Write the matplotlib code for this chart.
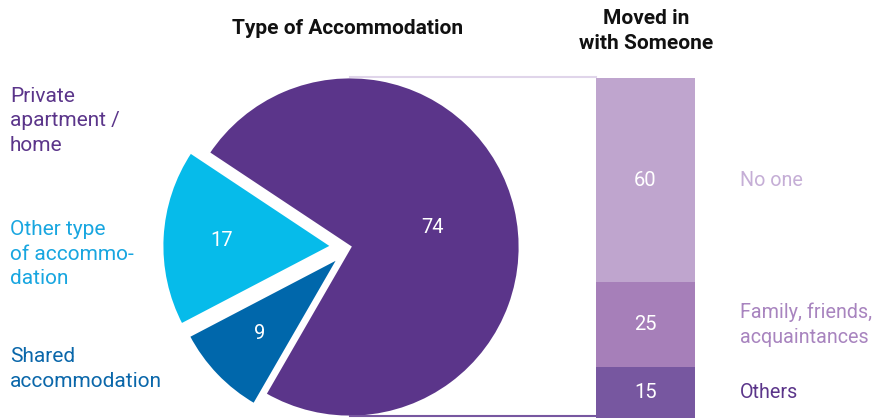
"""Type of accommodation pie plus 'moved in with someone' stacked bar."""
from __future__ import annotations

import matplotlib

matplotlib.use("Agg")
import matplotlib.pyplot as plt
import numpy as np

# pie: type of accommodation (percent)
ACC_LABELS = ["Private\napartment /\nhome", "Other type\nof accommo-\ndation", "Shared\naccommodation"]
ACC_VALUES = [74, 17, 9]
ACC_COLORS = ["#5b358a", "#06bbea", "#0067ab"]
ACC_TEXT_COLORS = ["#5b358a", "#18a6e0", "#0a67aa"]

# stacked bar: moved in with someone (percent), top to bottom
MOVED_LABELS = ["No one", "Family, friends,\nacquaintances", "Others"]
MOVED_VALUES = [60, 25, 15]
MOVED_COLORS = ["#bfa5ce", "#a67fb9", "#7757a0"]
MOVED_TEXT_COLORS = ["#c5aed6", "#a884bf", "#5b358a"]

FONT = "Roboto"
W, H = 877, 418


def main() -> None:
    plt.rcParams["font.family"] = [FONT, "DejaVu Sans"]
    fig = plt.figure(figsize=(W / 100, H / 100), dpi=100)
    ax = fig.add_axes([0, 0, 1, 1])

    # ---- pie ----
    cx, cy, r = 350, 171, 170
    # pie's explode is in data units here (radius is not 1)
    wedges, _ = ax.pie(
        ACC_VALUES, colors=ACC_COLORS, startangle=-120, counterclock=True,
        explode=[0, 18, 15], center=(cx, cy), radius=r,
        wedgeprops=dict(edgecolor="white", linewidth=2),
    )
    ax.set_xlim(0, W)
    ax.set_ylim(0, H)
    ax.set_aspect("equal")
    ax.axis("off")

    dists = [0.5, 0.65, 0.65]
    for w, v, d in zip(wedges, ACC_VALUES, dists):
        mid = np.deg2rad((w.theta1 + w.theta2) / 2)
        wx, wy = w.center
        ax.text(wx + d * w.r * np.cos(mid), wy + d * w.r * np.sin(mid), str(v),
                color="white", fontsize=14.5, ha="center", va="center")

    label_y = [H - 121, H - 254, H - 369]
    for lab, col, y in zip(ACC_LABELS, ACC_TEXT_COLORS, label_y):
        ax.text(10, y, lab, color=col, fontsize=15, ha="left", va="center",
                linespacing=1.38)

    # ---- stacked bar ----
    scale = 3.4
    bx, bw = 645.5, 99
    bottom = 0.0
    for v, col, lab, tcol in reversed(list(zip(MOVED_VALUES, MOVED_COLORS,
                                               MOVED_LABELS, MOVED_TEXT_COLORS))):
        ax.bar(bx, v * scale, bottom=bottom, width=bw, color=col, linewidth=0)
        yc = bottom + v * scale / 2
        ax.text(bx, yc, str(v), color="white", fontsize=14.5, ha="center", va="center")
        ax.text(740, yc, lab, color=tcol, fontsize=14.2, ha="left", va="center",
                linespacing=1.38)
        bottom += v * scale
    top = bottom

    # connector lines pie -> bar
    ax.plot([cx, bx - bw / 2], [cy + r, top + 1], color="#e0d5ea", lw=1.5)
    ax.plot([cx, bx - bw / 2], [cy - r + 1, 2], color="#7757a0", lw=1.5)

    # titles
    ax.text(348, H - 29, "Type of Accommodation", fontsize=15, fontweight="bold",
            ha="center", va="center", color="#111111")
    ax.text(646, H - 31, "Moved in\nwith Someone", fontsize=15, fontweight="bold",
            ha="center", va="center", color="#111111", linespacing=1.35)

    fig.savefig("out.png", dpi=100)
    plt.close(fig)


if __name__ == "__main__":
    main()
